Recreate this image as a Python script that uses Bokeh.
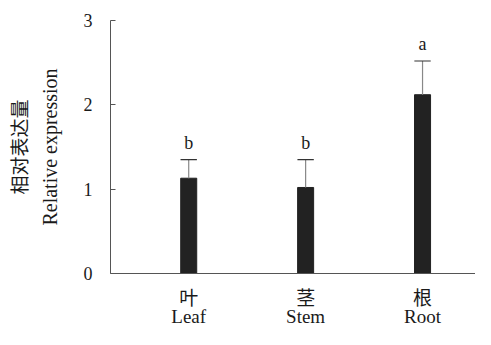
from bokeh.plotting import figure
from bokeh.models import LinearAxis, FixedTicker, ColumnDataSource, Range1d
from bokeh.core.properties import value
from bokeh.embed import file_html
from bokeh.resources import INLINE

categories_cn = ["叶", "茎", "根"]
categories_en = ["Leaf", "Stem", "Root"]
means = [1.13, 1.02, 2.12]
errors = [0.22, 0.33, 0.40]
letters = ["b", "b", "a"]
y_ticks = [0, 1, 2, 3]

xs = [1, 2, 3]
tops = [m + e for m, e in zip(means, errors)]

SERIF = "Liberation Serif"
CJK = "Noto Sans CJK SC"
AX = "#555555"
TXT = "#1a1a1a"

p = figure(width=475, height=329, output_backend="svg", toolbar_location=None,
           x_range=Range1d(0.331, 3.453), y_range=Range1d(0, 3),
           min_border_left=110, min_border_top=20, min_border_right=0, min_border_bottom=0,
           outline_line_color=None, x_axis_location=None, y_axis_location=None)
p.grid.visible = False
p.background_fill_color = "white"
p.border_fill_color = "white"

src = ColumnDataSource(dict(x=xs, mean=means, top=tops, lab=letters))
p.vbar(x="x", top="mean", bottom=0, width=0.137, source=src,
       fill_color="#222222", line_color="#222222")
p.segment(x0="x", y0="mean", x1="x", y1="top", source=src, line_color="#888888", line_width=1.2)
p.segment(x0=[x - 0.07 for x in xs], y0=tops, x1=[x + 0.07 for x in xs], y1=tops,
          line_color="#333333", line_width=1.2)
p.text(x="x", y="top", text="lab", source=src, text_font=value(SERIF), text_font_size="18px",
       text_align="center", text_baseline="bottom", y_offset=-7, text_color=TXT)

# y axis
ya = LinearAxis(ticker=FixedTicker(ticks=y_ticks), axis_label="Relative expression")
ya.axis_line_color = AX
ya.major_tick_line_color = AX
ya.major_tick_in = 5
ya.major_tick_out = 0
ya.minor_tick_line_color = None
ya.major_label_standoff = 18
ya.major_label_text_font = SERIF
ya.major_label_text_font_size = "18px"
ya.major_label_text_color = TXT
ya.axis_label_text_font = SERIF
ya.axis_label_text_font_size = "20px"
ya.axis_label_text_font_style = "normal"
ya.axis_label_text_color = TXT
ya.axis_label_standoff = 20
p.add_layout(ya, "left")

ya2 = LinearAxis(ticker=FixedTicker(ticks=[]), axis_label="相对表达量")
ya2.axis_line_color = None
ya2.major_tick_line_color = None
ya2.minor_tick_line_color = None
ya2.axis_label_text_font = CJK
ya2.axis_label_text_font_size = "19px"
ya2.axis_label_text_font_style = "normal"
ya2.axis_label_text_color = TXT
ya2.axis_label_standoff = 4
p.add_layout(ya2, "left")

# x axes
xa = LinearAxis(ticker=FixedTicker(ticks=xs),
                major_label_overrides={x: c for x, c in zip(xs, categories_cn)})
xa.axis_line_color = AX
xa.major_tick_line_color = None
xa.minor_tick_line_color = None
xa.major_label_standoff = 3
xa.major_label_text_font = CJK
xa.major_label_text_font_size = "19px"
xa.major_label_text_color = TXT
p.add_layout(xa, "below")

xa2 = LinearAxis(ticker=FixedTicker(ticks=xs),
                 major_label_overrides={x: c for x, c in zip(xs, categories_en)})
xa2.axis_line_color = None
xa2.major_tick_line_color = None
xa2.minor_tick_line_color = None
xa2.major_label_standoff = -13
xa2.major_label_text_font = SERIF
xa2.major_label_text_font_size = "19px"
xa2.major_label_text_color = TXT
xa2.major_label_text_line_height = 1.0
p.add_layout(xa2, "below")

open("out.html", "w").write(file_html(p, INLINE))
